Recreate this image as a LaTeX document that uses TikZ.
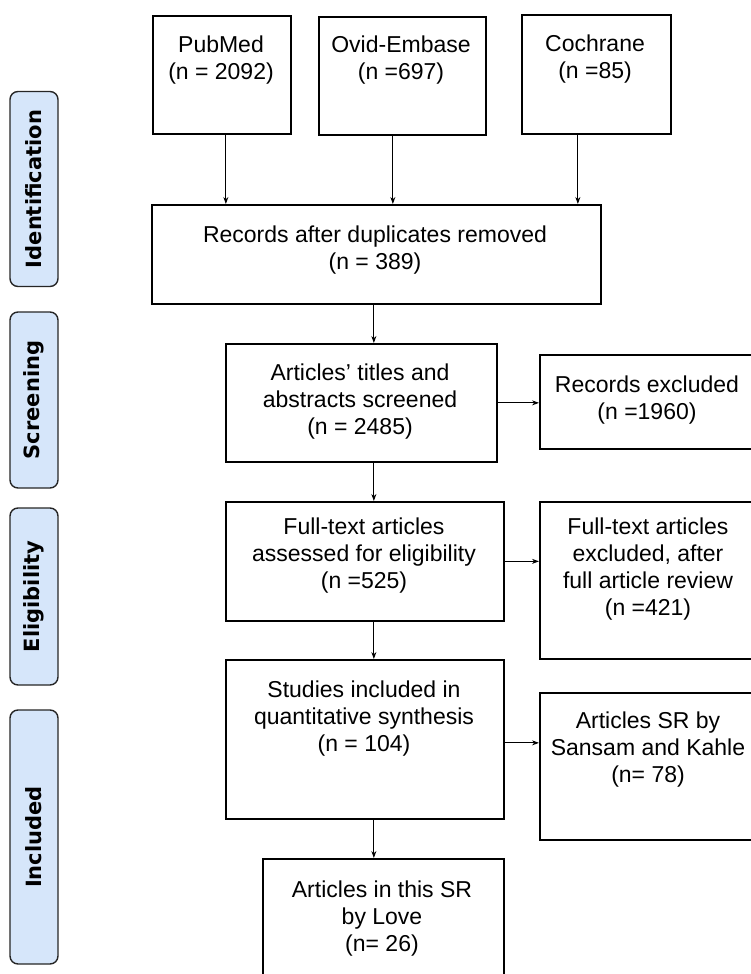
\documentclass[tikz,border=0pt]{standalone}
\usepackage{fontspec}
\setmainfont{Liberation Sans}
\newfontfamily\phasefont{DejaVu Sans}
\usetikzlibrary{arrows.meta}
\definecolor{phaseblue}{RGB}{214,230,250}
\begin{document}
\begin{tikzpicture}[x=1pt,y=-1pt,
  box/.style={draw=black, line width=1.7pt, inner sep=0pt, anchor=north west},
  txt/.style={align=center, font=\fontsize{23}{27}\selectfont, inner sep=0pt},
  phase/.style={draw=black!85, line width=1.4pt, fill=phaseblue, rounded corners=8pt,
    inner sep=0pt, rotate=90, font=\phasefont\bfseries\fontsize{21}{24}\selectfont},
  arr/.style={line width=1.1pt, -{Stealth[length=7pt,width=5pt]}}]
\useasboundingbox (0,0) rectangle (751,974);
\clip (0,0) rectangle (751,974);

% phase labels
\node[phase, minimum width=195pt, minimum height=48pt] (idlab) at (34,189) {Identification};
\node[phase, minimum width=176pt, minimum height=48pt] (sclab) at (34,400) {Screening};
\node[phase, minimum width=177pt, minimum height=48pt] (ellab) at (34,596.5) {Eligibility};
\node[phase, minimum width=254pt, minimum height=48pt] (inlab) at (34,837) {Included};

% boxes
\node[box, minimum width=138pt, minimum height=118pt] (pubmed) at (152,15) {};
\node[box, minimum width=167pt, minimum height=118pt] (ovid) at (318,16) {};
\node[box, minimum width=149pt, minimum height=119pt] (cochrane) at (521,14) {};
\node[box, minimum width=449pt, minimum height=99pt] (records) at (151,204) {};
\node[box, minimum width=271pt, minimum height=118pt] (screen) at (225,343) {};
\node[box, minimum width=214pt, minimum height=94pt] (recexcl) at (539,354) {};
\node[box, minimum width=278pt, minimum height=119pt] (elig) at (225,501) {};
\node[box, minimum width=214pt, minimum height=157pt] (ftexcl) at (539,501) {};
\node[box, minimum width=278pt, minimum height=159pt] (studies) at (225,659) {};
\node[box, minimum width=214pt, minimum height=147pt] (artsr) at (539,692) {};
\node[box, minimum width=241pt, minimum height=130pt] (love) at (262,858) {};

% texts
\node[txt] (pubmedT) at (221,60) {PubMed\\(n = 2092)};
\node[txt] (ovidT) at (401,60.5) {Ovid-Embase\\(n =697)};
\node[txt] (cochraneT) at (595,59) {Cochrane\\(n =85)};
\node[txt] (recordsT) at (375,250) {Records after duplicates removed\\(n = 389)};
\node[txt] (screenT) at (360,401.5) {Articles’ titles and\\abstracts screened\\(n = 2485)};
\node[txt] (recexclT) at (647,400.5) {Records excluded\\(n =1960)};
\node[txt] (eligT) at (364,556) {Full-text articles\\assessed for eligibility\\(n =525)};
\node[txt] (ftexclT) at (648,569) {Full-text articles\\excluded, after\\full article review\\(n =421)};
\node[txt] (studiesT) at (364,718.5) {Studies included in\\quantitative synthesis\\(n = 104)};
\node[txt] (artsrT) at (648,750) {Articles SR by\\Sansam and Kahle\\(n= 78)};
\node[txt] (loveT) at (382,919) {Articles in this SR\\by Love\\(n= 26)};

% connectors
\draw[arr] ([xshift=4pt]pubmed.south) -- ([xshift=4pt]pubmed.south |- records.north);
\draw[arr] ([xshift=-9.5pt]ovid.south) -- ([xshift=-9.5pt]ovid.south |- records.north);
\draw[arr] ([xshift=-18.5pt]cochrane.south) -- ([xshift=-18.5pt]cochrane.south |- records.north);
\draw[arr] ([xshift=-2.5pt]records.south) -- ([xshift=-2.5pt]records.south |- screen.north);
\draw[arr] (screen.east) -- (screen.east -| recexcl.west);
\draw[arr] ([xshift=12.5pt]screen.south) -- ([xshift=12.5pt]screen.south |- elig.north);
\draw[arr] (elig.east) -- (elig.east -| ftexcl.west);
\draw[arr] ([xshift=9pt]elig.south) -- ([xshift=9pt]elig.south |- studies.north);
\draw[arr] ([yshift=-3.5pt]studies.east) -- ([yshift=-3.5pt]studies.east -| artsr.west);
\draw[arr] ([xshift=9pt]studies.south) -- ([xshift=9pt]studies.south |- love.north);
\end{tikzpicture}
\end{document}
